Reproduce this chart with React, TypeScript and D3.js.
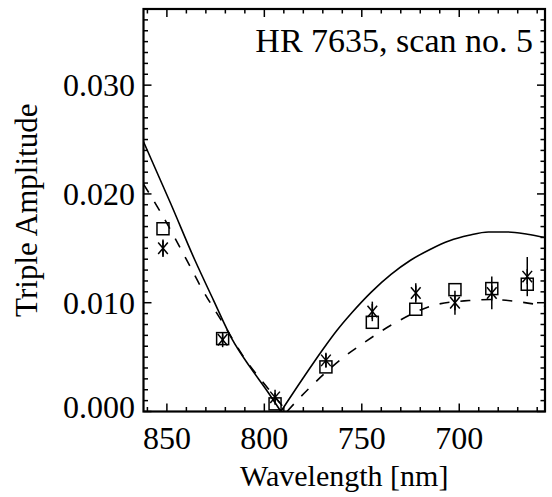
import React from "react";
import * as d3 from "d3";

// Measured triple amplitudes per spectral channel
const WAVELENGTH = [852, 821.4, 794.5, 768.4, 744.6, 722.3, 702.2, 683.3, 665.1];
const AMP_SQUARE = [0.0168, 0.0067, 0.0007, 0.0041, 0.0082, 0.0094, 0.0112, 0.0113, 0.0117];
const AMP_STAR = [0.0150, 0.0066, 0.0013, 0.0047, 0.0092, 0.0109, 0.0100, 0.0109, 0.0124];
const AMP_STAR_ERR = [0.0008, 0.0005, 0.0004, 0.0006, 0.0009, 0.0009, 0.0011, 0.0015, 0.0018];

// Model curves (solid / dashed), each split at its zero crossing
const SOLID_WL_A = [862, 848, 835.6, 826, 816.7, 807.4, 799, 791.5];
const SOLID_AMP_A = [0.0248, 0.0191, 0.0139, 0.0102, 0.0067, 0.0041, 0.002, 0];
const SOLID_WL_B = [791.5, 780, 770, 763, 755, 745, 735, 725, 715, 705, 695, 685, 675, 665, 656];
const SOLID_AMP_B = [0, 0.0031, 0.0057, 0.0074, 0.0091, 0.011, 0.0126, 0.0139, 0.0149, 0.0157, 0.0162, 0.0165, 0.0165, 0.0163, 0.016];

const DASHED_WL_A = [862, 853.5, 838, 833, 821.5, 809.4, 798, 788.4];
const DASHED_AMP_A = [0.0209, 0.0184, 0.0133, 0.0116, 0.0082, 0.0047, 0.0021, 0];
const DASHED_WL_B = [788.4, 782.7, 775.5, 758.6, 749.9, 732.4, 712.4, 695, 684, 670, 656];
const DASHED_AMP_B = [0, 0.0011, 0.0024, 0.0051, 0.0062, 0.0082, 0.0098, 0.0102, 0.0103, 0.0101, 0.0097];

const X_TICKS = [850, 800, 750, 700];
const Y_TICKS = [0, 0.01, 0.02, 0.03];

const W = 552;
const H = 497;
const L = 143.5;
const R = 545;
const T = 9;
const B = 411.5;
const FONT = "Liberation Serif, Tinos, DejaVu Serif, Times New Roman, serif";

export default function App() {
  const x = d3.scaleLinear().domain([862, 656]).range([L, R]);
  const y = d3.scaleLinear().domain([0, 0.037]).range([B, T]);

  const line = d3
    .line<[number, number]>()
    .x((d) => x(d[0]))
    .y((d) => y(d[1]))
    .curve(d3.curveMonotoneX);

  const pairs = (a: number[], b: number[]) => a.map((v, i) => [v, b[i]] as [number, number]);

  const xMinor = d3.range(860, 655, -10);
  const yMinor = d3.range(0, 0.0371, 0.001);
  const majorLen = 8;
  const minorLen = 4.5;

  // square half-size and asterisk arm length / angle
  const sq = 6;
  const st = 7.5;
  const ang = (40 * Math.PI) / 180;
  const dx = st * Math.sin(ang);
  const dy = st * Math.cos(ang);

  const textStyle = { fontFamily: FONT };

  return (
    <svg
      width={W}
      height={H}
      style={{ position: "absolute", left: 0, top: 0, background: "#fff", fontFamily: FONT }}
    >
      <defs>
        <clipPath id="plot">
          <rect x={L} y={T} width={R - L} height={B - T} />
        </clipPath>
      </defs>
      <rect width={W} height={H} fill="#fff" />

      {/* model curves */}
      <g clipPath="url(#plot)" fill="none" stroke="#000" strokeWidth={1.6}>
        <path d={line(pairs(SOLID_WL_A, SOLID_AMP_A)) || ""} />
        <path d={line(pairs(SOLID_WL_B, SOLID_AMP_B)) || ""} />
        <path d={line(pairs(DASHED_WL_A, DASHED_AMP_A)) || ""} strokeDasharray="10 11" />
        <path d={line(pairs(DASHED_WL_B, DASHED_AMP_B)) || ""} strokeDasharray="10 11" />
      </g>

      {/* data points */}
      <g fill="none" stroke="#000" strokeWidth={1.5}>
        {WAVELENGTH.map((w, i) => (
          <rect key={"s" + i} x={x(w) - sq} y={y(AMP_SQUARE[i]) - sq} width={2 * sq} height={2 * sq} />
        ))}
        {WAVELENGTH.map((w, i) => {
          const cx = x(w);
          const cy = y(AMP_STAR[i]);
          return (
            <g key={"a" + i}>
              <line x1={cx} x2={cx} y1={y(AMP_STAR[i] + AMP_STAR_ERR[i])} y2={y(AMP_STAR[i] - AMP_STAR_ERR[i])} />
              <line x1={cx} x2={cx} y1={cy - st} y2={cy + st} />
              <line x1={cx - dx} x2={cx + dx} y1={cy - dy} y2={cy + dy} />
              <line x1={cx + dx} x2={cx - dx} y1={cy - dy} y2={cy + dy} />
            </g>
          );
        })}
      </g>

      {/* ticks on all four sides */}
      <g stroke="#000" strokeWidth={1.5}>
        {xMinor.map((v) => {
          const major = X_TICKS.includes(v);
          const len = major ? majorLen : minorLen;
          return (
            <g key={"xt" + v}>
              <line x1={x(v)} x2={x(v)} y1={B} y2={B - len} />
              <line x1={x(v)} x2={x(v)} y1={T} y2={T + len} />
            </g>
          );
        })}
        {yMinor.map((v, i) => {
          const major = i % 10 === 0;
          const len = major ? majorLen : minorLen;
          return (
            <g key={"yt" + i}>
              <line x1={L} x2={L + len} y1={y(v)} y2={y(v)} />
              <line x1={R} x2={R - len} y1={y(v)} y2={y(v)} />
            </g>
          );
        })}
      </g>

      <rect x={L} y={T} width={R - L} height={B - T} fill="none" stroke="#000" strokeWidth={2.2} />

      {/* tick labels */}
      <g fontSize={32} fill="#000" style={textStyle}>
        {X_TICKS.map((v) => (
          <text key={"xl" + v} x={x(v)} y={449} textAnchor="middle" style={textStyle}>
            {v}
          </text>
        ))}
        {Y_TICKS.map((v) => (
          <text key={"yl" + v} x={135} y={Math.min(y(v) + 11, B + 6)} textAnchor="end" style={textStyle}>
            {v.toFixed(3)}
          </text>
        ))}
      </g>

      {/* axis titles */}
      <text x={(L + R) / 2} y={486} textAnchor="middle" fontSize={30} style={textStyle}>
        Wavelength [nm]
      </text>
      <text
        transform={`translate(37, ${(T + B) / 2}) rotate(-90)`}
        textAnchor="middle"
        fontSize={31}
        style={textStyle}
      >
        Triple Amplitude
      </text>

      <text x={533} y={52} textAnchor="end" fontSize={34} style={textStyle}>
        HR 7635, scan no. 5
      </text>
    </svg>
  );
}
